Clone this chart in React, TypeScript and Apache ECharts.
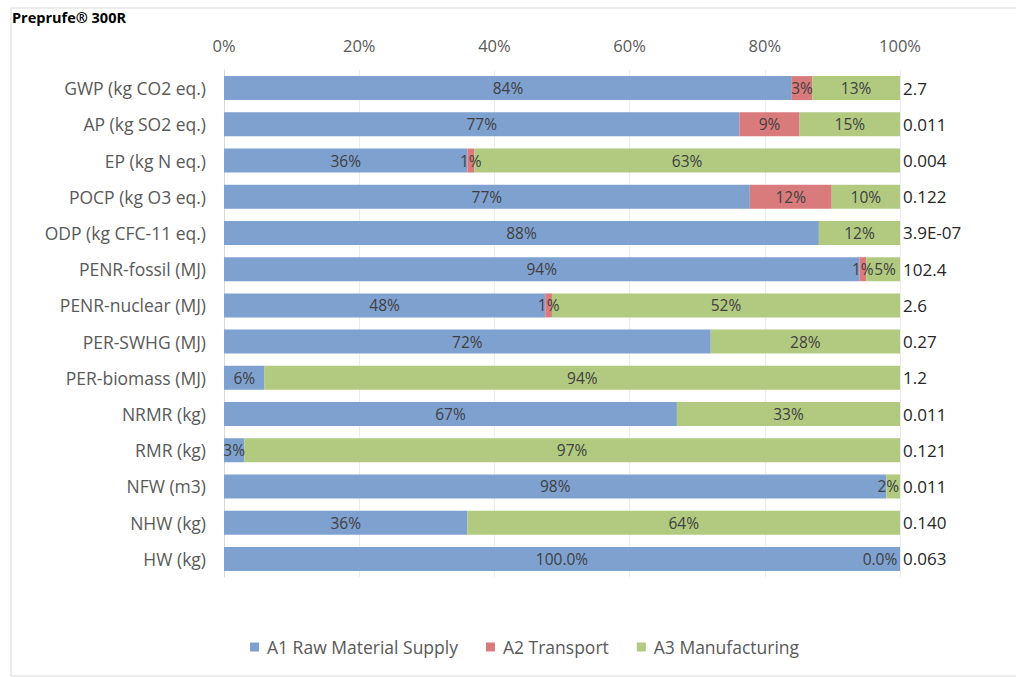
import React, { useEffect, useRef } from "react";
import * as echarts from "echarts";

const title = "Preprufe® 300R";
const categories = [
  "GWP (kg CO2 eq.)",
  "AP (kg SO2 eq.)",
  "EP (kg N eq.)",
  "POCP (kg O3 eq.)",
  "ODP (kg CFC-11 eq.)",
  "PENR-fossil (MJ)",
  "PENR-nuclear (MJ)",
  "PER-SWHG (MJ)",
  "PER-biomass (MJ)",
  "NRMR (kg)",
  "RMR (kg)",
  "NFW (m3)",
  "NHW (kg)",
  "HW (kg)",
];
const totals = ["2.7", "0.011", "0.004", "0.122", "3.9E-07", "102.4", "2.6", "0.27", "1.2", "0.011", "0.121", "0.011", "0.140", "0.063"];
const a1 = [84, 77, 36, 77, 88, 94, 48, 72, 6, 67, 3, 98, 36, 100];
const a2 = [3, 9, 1, 12, 0, 1, 1, 0, 0, 0, 0, 0, 0, 0];
const a3 = [13, 15, 63, 10, 12, 5, 52, 28, 94, 33, 97, 2, 64, 0];
const a1Labels = ["84%", "77%", "36%", "77%", "88%", "94%", "48%", "72%", "6%", "67%", "3%", "98%", "36%", "100.0%"];
const a2Labels = ["3%", "9%", "1%", "12%", "", "1%", "1%", "", "", "", "", "", "", ""];
const a3Labels = ["13%", "15%", "63%", "10%", "12%", "5%", "52%", "28%", "94%", "33%", "97%", "2%", "64%", "0.0%"];
const seriesNames = ["A1 Raw Material Supply", "A2 Transport", "A3 Manufacturing"];
const colors = ["#7EA1D0", "#D97B7C", "#B1CA80"];

const FONT = "'Open Sans', sans-serif";

export default function App() {
  const ref = useRef<HTMLDivElement>(null);
  useEffect(() => {
    if (!ref.current) return;
    const chart = echarts.init(ref.current, undefined, { renderer: "svg" });
    const raw = [a1, a2, a3];
    const labs = [a1Labels, a2Labels, a3Labels];
    const sums = categories.map((_, i) => a1[i] + a2[i] + a3[i]);
    const series = raw.map((vals, s) => ({
      name: seriesNames[s],
      type: "bar",
      stack: "total",
      barWidth: 24,
      itemStyle: { color: colors[s] },
      data: vals.map((v, i) => {
        const item: any = { value: (v / sums[i]) * 100 };
        const text = labs[s][i];
        item.label = {
          show: text !== "",
          formatter: text,
        };
        if (s === 2 && i === 13) item.label.offset = [-20, 0];
        if (s === 2 && i === 5) item.label.offset = [2, 0];
        if (s === 2 && i === 11) item.label.offset = [-5, 0];
        return item;
      }),
      label: {
        show: true,
        position: "inside",
        color: "#404040",
        fontSize: 15.5,
        fontFamily: FONT,
      },
    }));
    chart.setOption({
      animation: false,
      backgroundColor: "#ffffff",
      graphic: [
        {
          type: "rect",
          shape: { x: 11, y: 8, width: 1100, height: 668 },
          style: { fill: "none", stroke: "#D9D9D9", lineWidth: 1 },
          silent: true,
        },
        {
          type: "text",
          left: 12,
          top: 10,
          style: { text: title, fontSize: 14.5, fontWeight: "bold", fill: "#000000", fontFamily: FONT },
        },
      ],
      legend: {
        bottom: 16,
        left: 245,
        itemWidth: 9,
        itemHeight: 9,
        itemGap: 28,
        icon: "rect",
        textStyle: { fontSize: 17.5, color: "#595959", fontFamily: FONT, padding: [0, 0, 0, 3] },
        data: seriesNames,
      },
      grid: { left: 224, right: 116, top: 70, bottom: 100, containLabel: false },
      xAxis: {
        type: "value",
        position: "top",
        min: 0,
        max: 100,
        interval: 20,
        axisLine: { show: false },
        axisTick: { show: false },
        splitLine: { show: true, lineStyle: { color: "#ECECEC", width: 1 } },
        axisLabel: {
          formatter: (v: number) => `${v}%`,
          fontSize: 16.5,
          color: "#595959",
          fontFamily: FONT,
          margin: 16,
        },
      },
      yAxis: [
        {
          type: "category",
          inverse: true,
          data: categories,
          axisLine: { show: true, lineStyle: { color: "#D9D9D9" } },
          axisTick: { show: false },
          axisLabel: { fontSize: 17.5, color: "#595959", fontFamily: FONT, margin: 18 },
        },
        {
          type: "category",
          inverse: true,
          position: "right",
          data: totals,
          axisLine: { show: false },
          axisTick: { show: false },
          axisLabel: { fontSize: 17, color: "#262626", fontFamily: FONT, margin: 3, align: "left" },
        },
      ],
      series,
    });
    return () => chart.dispose();
  }, []);
  return (
    <div
      ref={ref}
      style={{ position: "fixed", left: 0, top: 0, width: 1016, height: 677 }}
    />
  );
}
